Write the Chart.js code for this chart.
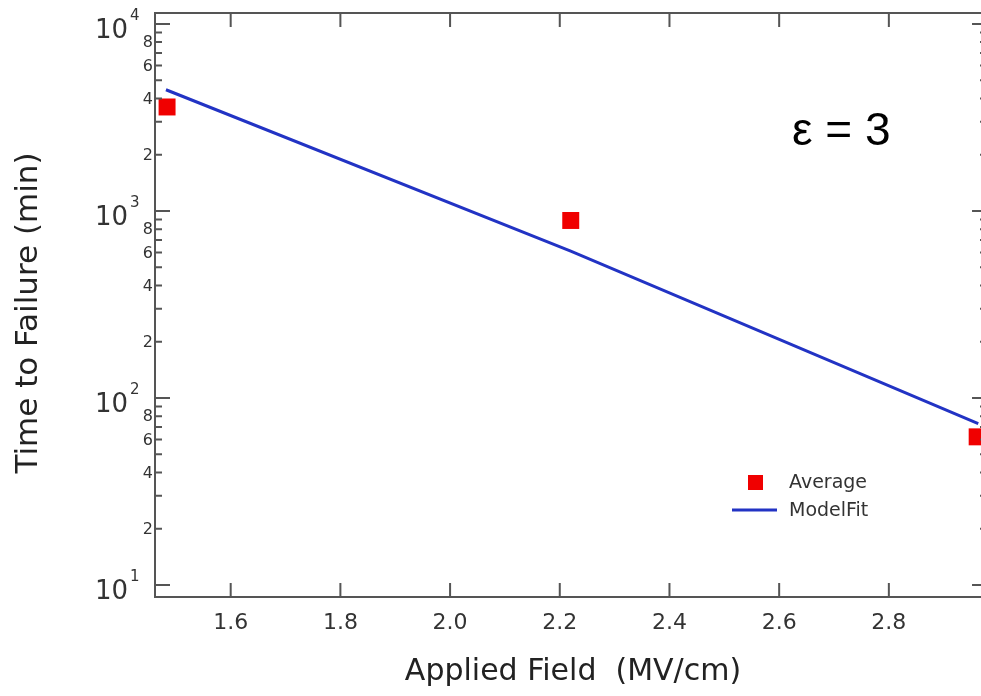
<!DOCTYPE html>
<html>
<head>
<meta charset="utf-8">
<script src="https://cdn.jsdelivr.net/npm/chart.js@4.4.1/dist/chart.umd.min.js"></script>
<style>
  body { margin: 0; background: #fff; }
  #chart { display: block; }
</style>
</head>
<body>
<canvas id="chart" width="981" height="696"></canvas>
<script>
const fieldAvg = [1.484, 2.220, 2.961];
const ttfAvg = [3600, 890, 62];
const fieldFit = [1.482, 2.220, 2.963];
const ttfFit = [4450, 610, 73];

// axes
const xRange = [1.462, 2.968];
const xFrameMax = 2.979;   // right border is just past the canvas edge
const yRange = [8.63, 11450];
const xTicks = [1.6, 1.8, 2.0, 2.2, 2.4, 2.6, 2.8];
const yDecades = [1, 2, 3, 4];
const yMinorLabels = [2, 4, 6, 8];

const frameColor = '#555';
const textColor = '#333';
const font = '"DejaVu Sans", Verdana, sans-serif';

const axesPlugin = {
    id: 'axesPlugin',
    afterDraw(chart) {
        const ctx = chart.ctx;
        const a = chart.chartArea;
        const xs = chart.scales.x;
        const ys = chart.scales.y;
        const right = xs.getPixelForValue(xFrameMax);
        ctx.save();

        // frame
        ctx.strokeStyle = frameColor;
        ctx.lineWidth = 2;
        ctx.strokeRect(a.left, a.top, right - a.left, a.bottom - a.top);

        // x ticks + labels
        ctx.fillStyle = textColor;
        ctx.font = '22px ' + font;
        ctx.textAlign = 'center';
        ctx.textBaseline = 'middle';
        xTicks.forEach(v => {
            const px = xs.getPixelForValue(v);
            ctx.beginPath();
            ctx.moveTo(px, a.bottom); ctx.lineTo(px, a.bottom - 14);
            ctx.moveTo(px, a.top); ctx.lineTo(px, a.top + 14);
            ctx.stroke();
            ctx.fillText(v.toFixed(1), px, 623);
        });

        // y ticks + labels (log)
        yDecades.forEach(e => {
            const base = Math.pow(10, e);
            const last = e === 4 ? 1 : 9;
            for (let m = 1; m <= last; m++) {
                const v = m * base;
                if (v < yRange[0] || v > yRange[1]) continue;
                const py = ys.getPixelForValue(v);
                const len = m === 1 ? 15 : 7;
                ctx.beginPath();
                ctx.moveTo(a.left, py); ctx.lineTo(a.left + len, py);
                ctx.moveTo(right, py); ctx.lineTo(right - len, py);
                ctx.stroke();
                if (yMinorLabels.includes(m)) {
                    ctx.font = '16px ' + font;
                    ctx.textAlign = 'right';
                    ctx.fillText(String(m), a.left - 2, py + 1);
                }
            }
            const py = ys.getPixelForValue(base);
            ctx.font = '26px ' + font;
            ctx.textAlign = 'right';
            ctx.fillText('10', a.left - 27, py + 7);
            ctx.font = '15px ' + font;
            ctx.textAlign = 'left';
            ctx.fillText(String(e), a.left - 25, py - 8);
        });

        // axis titles
        ctx.fillStyle = '#222';
        ctx.font = '30px ' + font;
        ctx.textAlign = 'center';
        ctx.fillText('Applied Field  (MV/cm)', 573, 672);
        ctx.save();
        ctx.translate(29, 313);
        ctx.rotate(-Math.PI / 2);
        ctx.font = '31px ' + font;
        ctx.fillText('Time to Failure (min)', 0, 0);
        ctx.restore();

        // annotation
        ctx.fillStyle = '#000';
        ctx.font = '46px "Liberation Sans", Arial, sans-serif';
        ctx.textAlign = 'left';
        ctx.fillText('\u03b5 = 3', 792, 132);

        // legend
        const ds = chart.data.datasets;
        ctx.fillStyle = ds[0].backgroundColor;
        ctx.fillRect(748, 475, 15, 15);
        ctx.strokeStyle = ds[1].borderColor;
        ctx.lineWidth = 3;
        ctx.beginPath();
        ctx.moveTo(732, 510); ctx.lineTo(777, 510);
        ctx.stroke();
        ctx.fillStyle = textColor;
        ctx.font = '19px ' + font;
        ctx.fillText(ds[0].label, 789, 483);
        ctx.fillText(ds[1].label, 789, 511);

        ctx.restore();
    }
};

new Chart(document.getElementById('chart'), {
    type: 'scatter',
    data: {
        datasets: [{
            label: 'Average',
            data: fieldAvg.map((x, i) => ({ x: x, y: ttfAvg[i] })),
            pointStyle: 'rect',
            pointRadius: 12,
            pointHoverRadius: 12,
            backgroundColor: '#f00000',
            borderWidth: 0,
            clip: false
        }, {
            label: 'ModelFit',
            type: 'line',
            data: fieldFit.map((x, i) => ({ x: x, y: ttfFit[i] })),
            borderColor: '#2233c4',
            borderWidth: 3,
            pointRadius: 0,
            tension: 0,
            fill: false
        }]
    },
    options: {
        responsive: false,
        animation: false,
        layout: { autoPadding: false, padding: { left: 155, top: 13, right: 0, bottom: 99 } },
        plugins: { legend: { display: false }, tooltip: { enabled: false } },
        scales: {
            x: { type: 'linear', min: xRange[0], max: xRange[1], display: false },
            y: { type: 'logarithmic', min: yRange[0], max: yRange[1], display: false }
        }
    },
    plugins: [axesPlugin]
});
</script>
</body>
</html>
